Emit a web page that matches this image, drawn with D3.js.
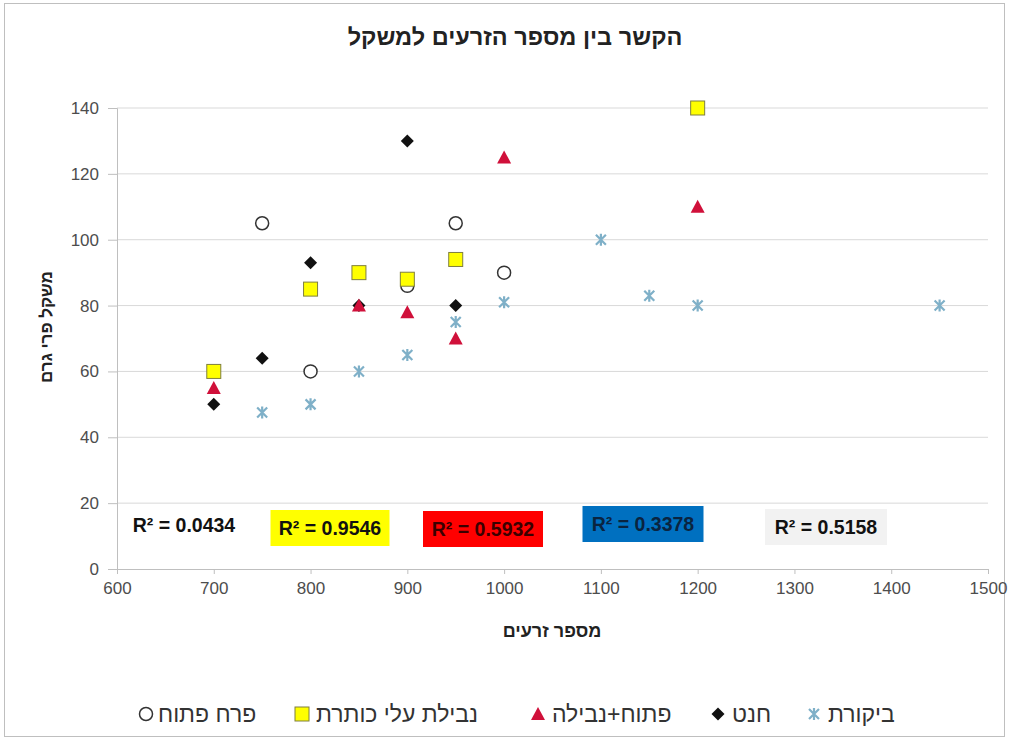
<!DOCTYPE html>
<html><head><meta charset="utf-8">
<script src="https://cdn.jsdelivr.net/npm/d3@7"></script>
<style>
body{margin:0;background:#fff;}
svg{display:block;font-family:"Liberation Sans",Arial,sans-serif;}
</style></head>
<body><svg id="c" width="1010" height="740"></svg>
<script>
const title = "הקשר בין מספר הזרעים למשקל";
const xTitle = "מספר זרעים";
const yTitle = "משקל פרי גרם";
const xTicks = [600,700,800,900,1000,1100,1200,1300,1400,1500];
const yTicks = [0,20,40,60,80,100,120,140];

const openX = [750,800,900,950,1000];
const openY = [105,60,86,105,90];
const petalX = [700,800,850,900,950,1200];
const petalY = [60,85,90,88,94,140];
const mixX = [700,850,900,950,1000,1200];
const mixY = [55,80,78,70,125,110];
const setX = [700,750,800,850,900,950];
const setY = [50,64,93,80,130,80];
const ctrlX = [750,800,850,900,950,1000,1100,1150,1200,1450];
const ctrlY = [47.5,50,60,65,75,81,100,83,80,80];

const seriesNames = ["ביקורת","חנט","פתוח+נבילה","נבילת עלי כותרת","פרח פתוח"];
const r2Labels = ["R² = 0.0434","R² = 0.9546","R² = 0.5932","R² = 0.3378","R² = 0.5158"];

const svg = d3.select("#c");
svg.append("rect").attr("x",4.5).attr("y",3.5).attr("width",1000).attr("height",733)
  .attr("fill","#fff").attr("stroke","#bfbfbf");

const x = d3.scaleLinear().domain([600,1500]).range([117,988]);
const y = d3.scaleLinear().domain([0,140]).range([569,108]);

// gridlines
svg.append("g").selectAll("line").data(yTicks.filter(d=>d>0)).join("line")
  .attr("x1",x(600)).attr("x2",x(1500)).attr("y1",d=>y(d)).attr("y2",d=>y(d))
  .attr("stroke","#d9d9d9").attr("stroke-width",1);

const xa = svg.append("g").attr("transform",`translate(0,${y(0)})`)
  .call(d3.axisBottom(x).tickValues(xTicks).tickSize(5).tickPadding(8).tickFormat(d3.format("d")));
const ya = svg.append("g").attr("transform",`translate(${x(600)},0)`)
  .call(d3.axisLeft(y).tickValues(yTicks).tickSize(9).tickPadding(9));
[xa,ya].forEach(a=>{
  a.select(".domain").attr("stroke","#bfbfbf");
  a.selectAll(".tick line").attr("stroke","#bfbfbf");
  a.selectAll("text").attr("fill","#4d4d4d").attr("font-size",17).attr("font-family","'Liberation Sans Narrow','Liberation Sans',sans-serif");
});

// titles
svg.append("text").attr("x",515).attr("y",45).attr("text-anchor","middle")
  .attr("font-size",23.5).attr("font-weight","bold").attr("fill","#222").text(title);
svg.append("text").attr("x",552).attr("y",637).attr("text-anchor","middle")
  .attr("font-size",18).attr("font-weight","bold").attr("fill","#222").text(xTitle);
svg.append("text").attr("transform","translate(52,327) rotate(-90)").attr("text-anchor","middle")
  .attr("font-size",17).attr("font-weight","bold").attr("fill","#222").text(yTitle);

// R² labels
const r2Box = [
  {cx:184, cy:525, w:0, fill:"none", tc:"#111"},
  {cx:330, cy:528, w:119, fill:"#ffff00", tc:"#111"},
  {cx:483, cy:529, w:120, fill:"#ff0000", tc:"#3a0000"},
  {cx:643, cy:524, w:121, fill:"#0070c0", tc:"#0a2440"},
  {cx:826, cy:527, w:122, fill:"#f2f2f2", tc:"#111"}
];
r2Box.forEach((b,i)=>{
  if(b.w>0) svg.append("rect").attr("x",b.cx-b.w/2).attr("y",b.cy-18).attr("width",b.w).attr("height",36).attr("fill",b.fill);
  svg.append("text").attr("x",b.cx).attr("y",b.cy+7).attr("text-anchor","middle")
    .attr("font-size",19.5).attr("font-weight","bold").attr("fill",b.tc)
    .attr("font-family","'Liberation Sans Narrow','Liberation Sans',sans-serif").text(r2Labels[i]);
});

// marker drawers
function circ(g,cx,cy){g.append("circle").attr("cx",cx).attr("cy",cy).attr("r",6.5).attr("fill","#fff").attr("stroke","#333").attr("stroke-width",1.5);}
function sq(g,cx,cy){g.append("rect").attr("x",cx-7).attr("y",cy-7).attr("width",14).attr("height",14).attr("fill","#ffff00").attr("stroke","#7f7f3f").attr("stroke-width",1);}
function tri(g,cx,cy){g.append("path").attr("d",`M${cx},${cy-7}L${cx+7},${cy+6}L${cx-7},${cy+6}Z`).attr("fill","#d0103a");}
function dia(g,cx,cy){g.append("path").attr("d",`M${cx},${cy-6.5}L${cx+6.5},${cy}L${cx},${cy+6.5}L${cx-6.5},${cy}Z`).attr("fill","#111");}
function star(g,cx,cy){
  const s=5;
  g.append("path").attr("d",`M${cx-s},${cy-s}L${cx+s},${cy+s}M${cx+s},${cy-s}L${cx-s},${cy+s}M${cx},${cy-s-1}L${cx},${cy+s+1}`)
   .attr("stroke","#7fb0c8").attr("stroke-width",2.2).attr("fill","none");
}

const pts = svg.append("g");
ctrlX.forEach((v,i)=>star(pts,x(v),y(ctrlY[i])));
setX.forEach((v,i)=>dia(pts,x(v),y(setY[i])));
openX.forEach((v,i)=>circ(pts,x(v),y(openY[i])));
mixX.forEach((v,i)=>tri(pts,x(v),y(mixY[i])));
petalX.forEach((v,i)=>sq(pts,x(v),y(petalY[i])));

// legend
const leg = svg.append("g").attr("font-size",23).attr("fill","#333");
const legItems = [
  {mx:814, tx:828, f:star},
  {mx:718, tx:732, f:dia},
  {mx:538, tx:552, f:tri},
  {mx:302, tx:316, f:sq},
  {mx:146, tx:158, f:circ}
];
legItems.forEach((d,i)=>{
  d.f(leg,d.mx,714);
  leg.append("text").attr("x",d.tx).attr("y",722).attr("text-anchor","start")
    .attr("fill","#333").text(seriesNames[i]);
});
</script></body></html>
